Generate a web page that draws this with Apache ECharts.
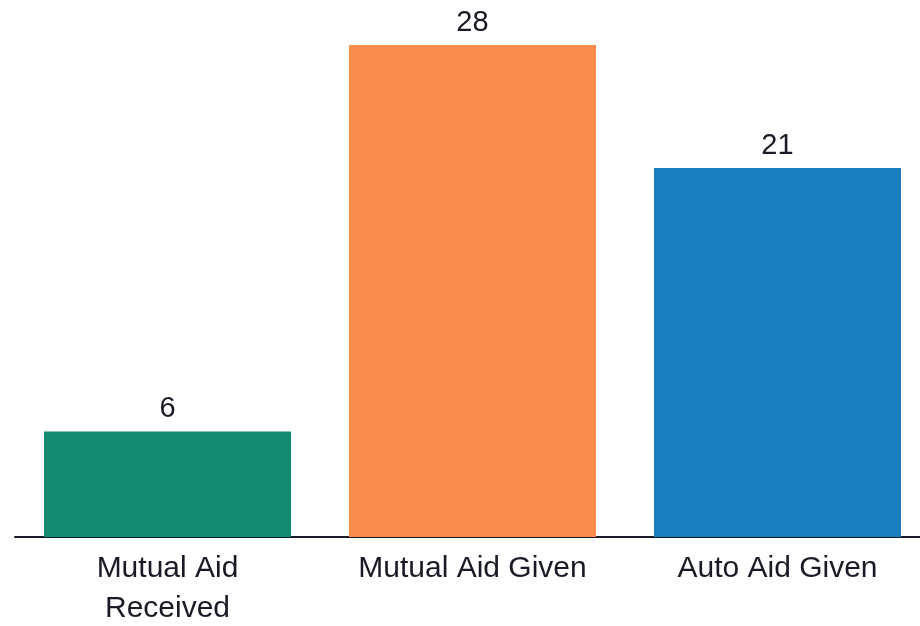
<!DOCTYPE html>
<html><head><meta charset="utf-8">
<script src="https://cdn.jsdelivr.net/npm/echarts@6/dist/echarts.min.js"></script>
<style>html,body{margin:0;padding:0;background:#fff}#c{width:920px;height:626px}</style>
</head><body><div id="c"></div>
<script>
const categories = ['Mutual Aid\nReceived', 'Mutual Aid Given', 'Auto Aid Given'];
const values = [6, 28, 21];
const colors = ['#138A6F', '#FA8C4D', '#1A7DBE'];
const FONT = '"Liberation Sans", Arial, sans-serif';

const chart = echarts.init(document.getElementById('c'));
chart.setOption({
  animation: false,
  grid: { left: 15, width: 915, top: 45, bottom: 89, containLabel: false, outerBoundsMode: 'none' },
  xAxis: {
    type: 'category',
    data: categories,
    axisLine: { lineStyle: { color: '#1a1a26', width: 2 } },
    axisTick: { show: false },
    axisLabel: { fontFamily: FONT, fontSize: 30, color: '#1a1a26', lineHeight: 40, margin: 12, interval: 0 }
  },
  yAxis: { type: 'value', min: 0, max: 28, show: false, splitLine: { show: false } },
  series: [{
    type: 'bar',
    barWidth: '81%',
    data: values.map((v, i) => ({ value: v, itemStyle: { color: colors[i] } })),
    label: { show: true, position: 'top', distance: 8, fontFamily: FONT, fontSize: 29, color: '#1a1a26' }
  }]
});
</script></body></html>
